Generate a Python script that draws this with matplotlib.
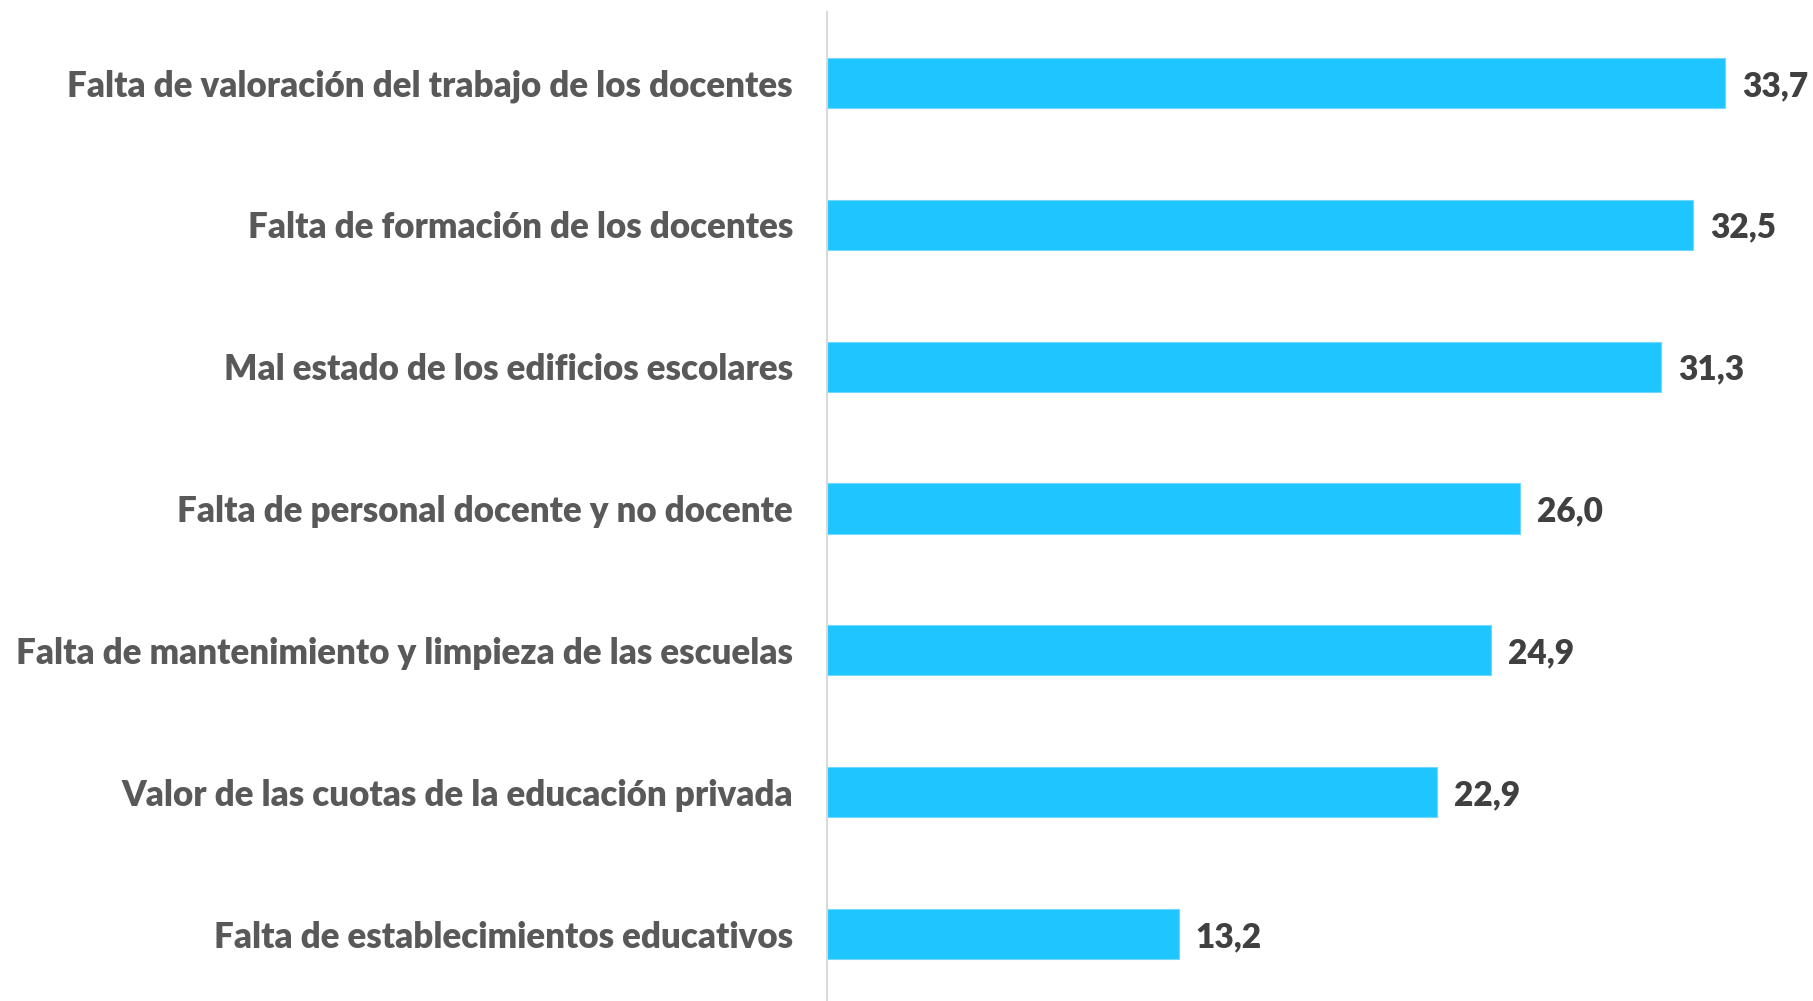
import matplotlib.pyplot as plt

categorias = [
    "Falta de valoración del trabajo de los docentes",
    "Falta de formación de los docentes",
    "Mal estado de los edificios escolares",
    "Falta de personal docente y no docente",
    "Falta de mantenimiento y limpieza de las escuelas",
    "Valor de las cuotas de la educación privada",
    "Falta de establecimientos educativos",
]
valores = [33.7, 32.5, 31.3, 26.0, 24.9, 22.9, 13.2]

plt.rcParams['font.family'] = ['Lato', 'DejaVu Sans']

fig = plt.figure(figsize=(18.13, 10.01), dpi=100)
ax = fig.add_axes([827 / 1813, -4 / 1001, 986 / 1813, 993 / 1001])

pos = list(range(len(categorias)))
ax.barh(pos, valores, height=0.353, color='#1FC5FF', edgecolor='#6FD8FF', linewidth=0.8)
ax.set_ylim(len(categorias) - 0.5, -0.5)
ax.set_xlim(0, 37.0)

for i, v in enumerate(valores):
    ax.annotate(f"{v:.1f}".replace('.', ','), (v, i), xytext=(17, -3),
                textcoords='offset pixels', va='center', ha='left',
                fontsize=24, fontweight='heavy', color='#404040')

ax.set_yticks(pos)
ax.set_yticklabels(categorias, fontsize=25.1, fontweight='heavy', color='#595959')
ax.tick_params(axis='y', length=0, pad=24.5)
ax.set_xticks([])
for s in ['top', 'right', 'bottom']:
    ax.spines[s].set_visible(False)
ax.spines['left'].set_color('#D9D9D9')
ax.spines['left'].set_linewidth(1.5)

fig.savefig('out.png', dpi=100, facecolor='white')
